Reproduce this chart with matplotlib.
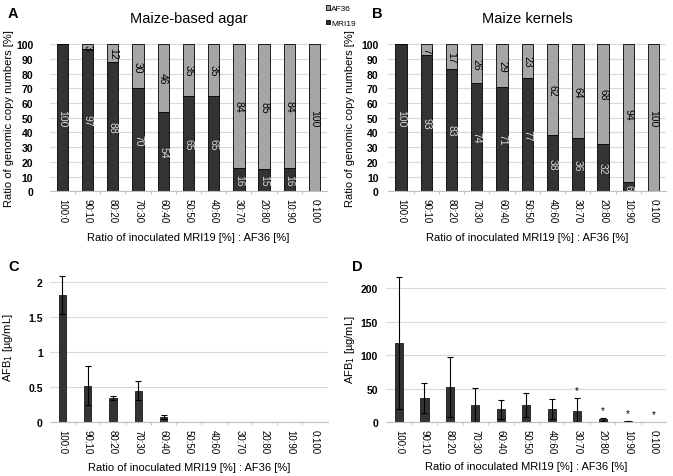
import matplotlib.pyplot as plt
import numpy as np

plt.rcParams['font.family'] = ['Liberation Sans', 'DejaVu Sans']

ratios = ['100:0', '90:10', '80:20', '70:30', '60:40', '50:50',
          '40:60', '30:70', '20:80', '10:90', '0:100']

# panel A - maize-based agar
agar_mri = [100, 97, 88, 70, 54, 65, 65, 16, 15, 16, 0]
agar_af = [0, 3, 12, 30, 46, 35, 35, 84, 85, 84, 100]
# panel B - maize kernels
kern_mri = [100, 93, 83, 74, 71, 77, 38, 36, 32, 6, 0]
kern_af = [0, 7, 17, 26, 29, 23, 62, 64, 68, 94, 100]
# panel C - AFB1 agar
afb_agar = [1.82, 0.52, 0.35, 0.45, 0.07, 0, 0, 0, 0, 0, 0]
afb_agar_err = [0.27, 0.28, 0.03, 0.14, 0.03, 0, 0, 0, 0, 0, 0]
# panel D - AFB1 kernels
afb_kern = [118, 36, 52, 25, 19, 26, 19, 17, 4, 1, 0]
afb_kern_err = [98, 22, 45, 26, 14, 18, 15, 19, 2, 0.5, 0]
stars = ['30:70', '20:80', '10:90', '0:100']

dark = '#333333'
light = '#a6a6a6'
grid = '#d9d9d9'
xlab = 'Ratio of inoculated MRI19 [%] : AF36 [%]'

fig = plt.figure(figsize=(6.73, 4.77), dpi=100)
x = np.arange(len(ratios))


def style(ax, ypad, ylab_x, xlab_y):
    for s in ['top', 'right', 'left']:
        ax.spines[s].set_visible(False)
    ax.spines['bottom'].set_color('#bfbfbf')
    ax.yaxis.grid(True, color=grid, lw=0.8)
    ax.set_axisbelow(True)
    ax.tick_params(axis='y', length=0, labelsize=7.5, pad=ypad)
    ax.tick_params(axis='x', which='major', length=0, labelsize=7, pad=5)
    ax.set_xticks(x)
    ax.set_xticks(x[:-1] + 0.5, minor=True)
    ax.tick_params(axis='x', which='minor', length=2.5, color='#bfbfbf')
    ax.set_xticklabels(ratios, rotation=270)
    for t in ax.get_yticklabels():
        t.set_fontweight('bold')
    ax.set_xlim(-0.5, len(ratios) - 0.5)
    ax.yaxis.set_label_coords(ylab_x, 0.5)
    ax.yaxis.label.set_va('center')
    ax.xaxis.set_label_coords(0.5, xlab_y)
    ax.xaxis.label.set_va('center')


def stacked(ax, mri, af, title, ypad, ylab_x):
    ax.bar(x, mri, 0.45, color=dark, edgecolor='black', lw=0.6, label='MRI19')
    ax.bar(x, af, 0.45, bottom=mri, color=light, edgecolor='black', lw=0.6, label='AF36')
    for i in range(len(x)):
        if mri[i] > 0:
            ax.text(x[i], mri[i] / 2, str(mri[i]), rotation=270, ha='center',
                    va='center', color='#d9d9d9', fontsize=7.5)
        if af[i] > 0:
            ax.text(x[i], mri[i] + af[i] / 2, str(af[i]), rotation=270, ha='center',
                    va='center', color='black', fontsize=7.5)
    ax.set_ylim(0, 100)
    ax.set_yticks(range(0, 101, 10))
    ax.set_ylabel('Ratio of genomic copy numbers [%]', fontsize=8)
    ax.set_xlabel(xlab, fontsize=8)
    ax.set_title(title, fontsize=10.5, pad=16)
    style(ax, ypad, ylab_x, -0.313)


axA = fig.add_axes([0.074, 0.597, 0.412, 0.308])
stacked(axA, agar_mri, agar_af, 'Maize-based agar', 12, -0.148)
axB = fig.add_axes([0.577, 0.597, 0.413, 0.308])
stacked(axB, kern_mri, kern_af, 'Maize kernels', 7, -0.137)

# legend between A and B
h, l = axA.get_legend_handles_labels()
fig.legend(h[::-1], l[::-1], loc='upper left', bbox_to_anchor=(0.475, 1.0),
           frameon=False, fontsize=6, handlelength=0.5, handleheight=0.5,
           handletextpad=0.15, labelspacing=0.9, borderpad=0.2)

axC = fig.add_axes([0.074, 0.113, 0.413, 0.3155])
axC.bar(x, afb_agar, 0.28, color=dark, edgecolor='black', lw=0.5)
axC.errorbar(x[:5], afb_agar[:5], yerr=afb_agar_err[:5], fmt='none', ecolor='black',
             elinewidth=0.8, capsize=2.5, capthick=0.8)
axC.set_ylim(0, 2.15)
axC.set_yticks([0, 0.5, 1, 1.5, 2])
axC.set_yticklabels(['0', '0.5', '1', '1.5', '2'])
axC.set_ylabel('AFB$_1$ [µg/mL]', fontsize=8)
axC.set_xlabel(xlab, fontsize=8)
style(axC, 5, -0.151, -0.299)

axD = fig.add_axes([0.574, 0.113, 0.416, 0.309])
axD.bar(x, afb_kern, 0.32, color=dark, edgecolor='black', lw=0.5)
axD.errorbar(x[:10], afb_kern[:10], yerr=afb_kern_err[:10], fmt='none', ecolor='black',
             elinewidth=0.8, capsize=2.5, capthick=0.8)
for s in stars:
    i = ratios.index(s)
    axD.text(x[i], afb_kern[i] + afb_kern_err[i] + 5, '*', ha='center', va='bottom',
             fontsize=7)
axD.set_ylim(0, 220)
axD.set_yticks([0, 50, 100, 150, 200])
axD.set_ylabel('AFB$_1$ [µg/mL]', fontsize=8)
axD.set_xlabel(xlab, fontsize=8)
style(axD, 6, -0.129, -0.299)

for lab, px, py in [('A', 0.012, 0.985), ('B', 0.553, 0.985),
                    ('C', 0.012, 0.455), ('D', 0.523, 0.455)]:
    fig.text(px, py, lab, fontsize=10.5, fontweight='bold', va='top')

fig.savefig('out.png', dpi=100)
